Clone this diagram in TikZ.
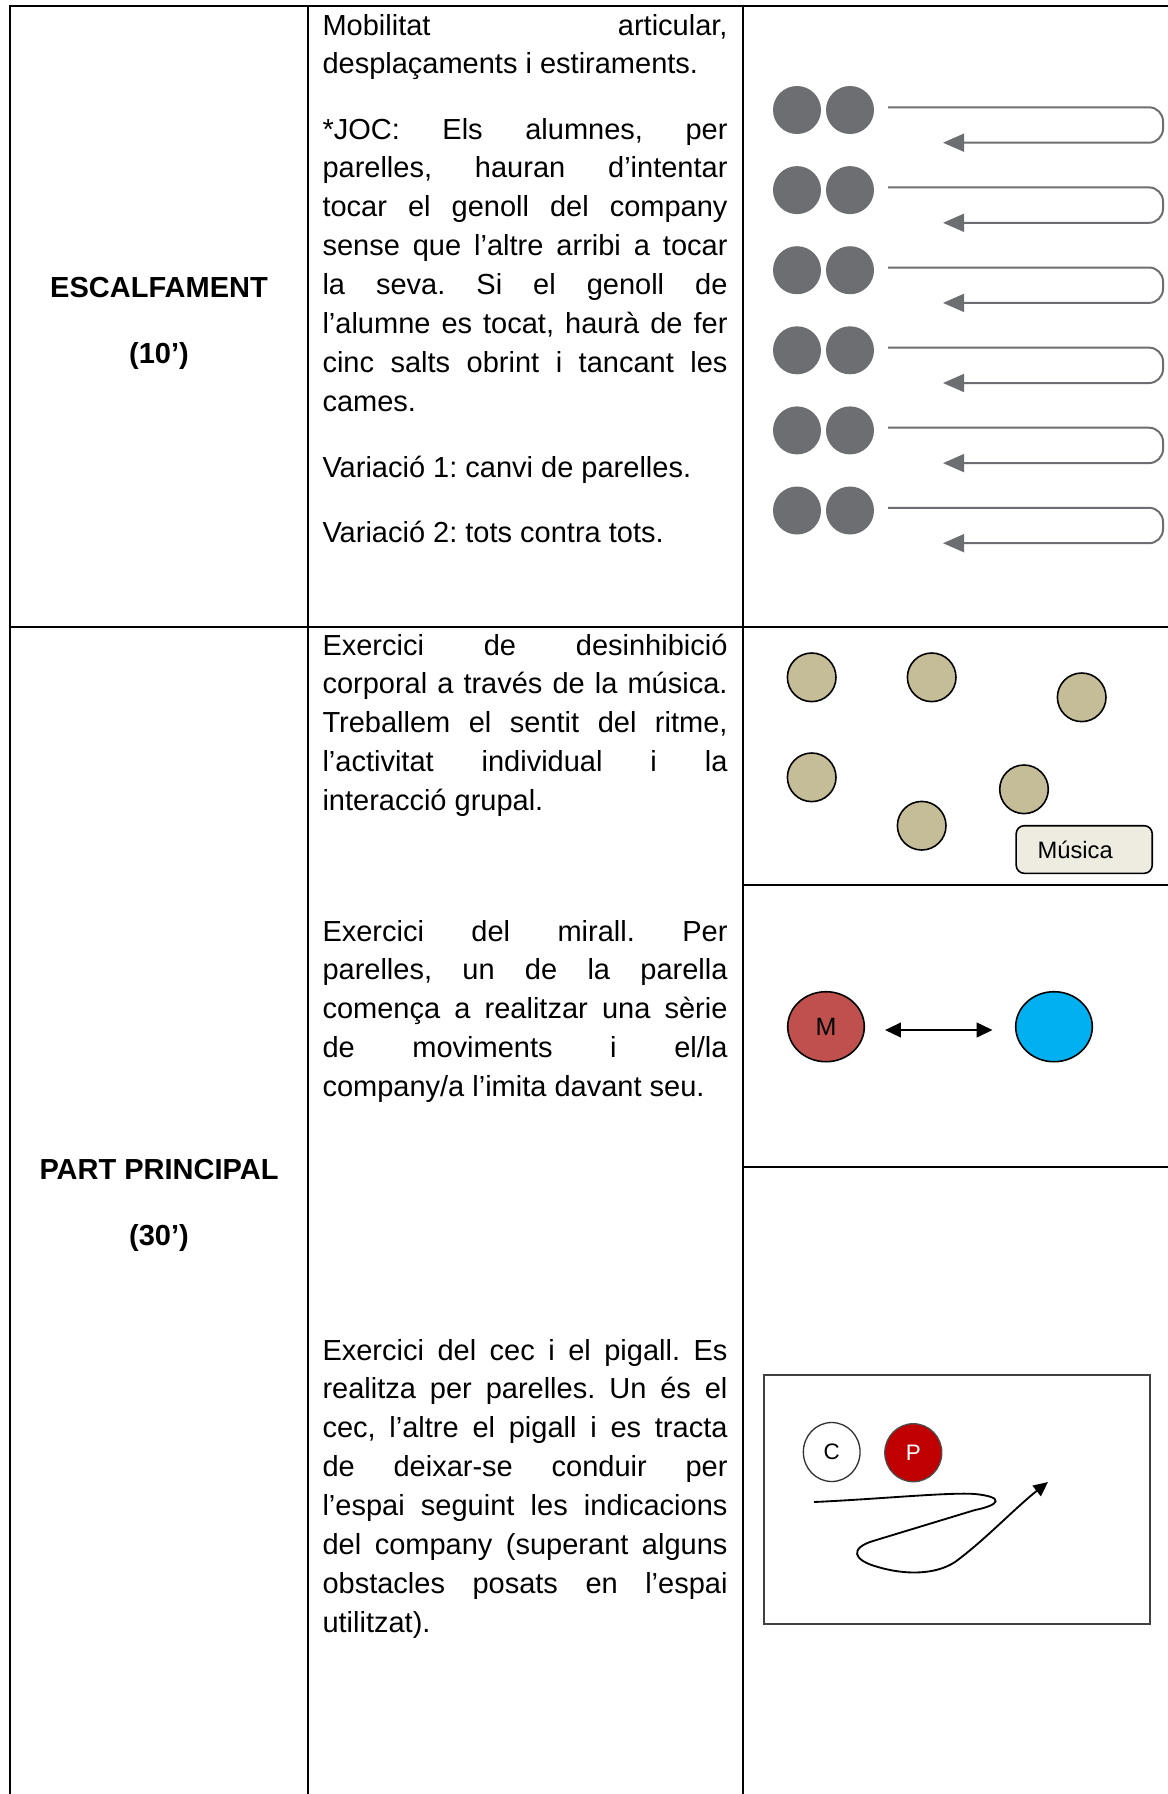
\documentclass[tikz,border=0pt]{standalone}
\usepackage{fontspec}
\setmainfont{Liberation Sans}
\usetikzlibrary{arrows.meta,shapes.geometric}

% one drawing unit of the layout grid
\newdimen\pxunit \pxunit=0.3793pt

% justified cell text with fixed line breaks
\tolerance=10000 \hbadness=10000
\hyphenpenalty=10000 \exhyphenpenalty=10000
\frenchspacing

\definecolor{dotgray}{HTML}{6D6E71}
\definecolor{tanfill}{HTML}{C4BD97}
\definecolor{boxfill}{HTML}{EEECE1}
\definecolor{mirrorred}{HTML}{C0504D}
\definecolor{skyblue}{HTML}{00B0F0}
\definecolor{guidered}{HTML}{C00000}

\tikzset{
  rule/.style={line width=0.8pt, line cap=rect},
  para/.style={anchor=base west, inner sep=0pt, text width=405\pxunit, align=justify,
    font=\frenchspacing\fontsize{11pt}{14.75pt}\selectfont},
  phase/.style={anchor=base, inner sep=0pt, font=\bfseries\fontsize{11pt}{14.75pt}\selectfont},
  pairdot/.style={circle, fill=dotgray, draw=none, inner sep=0pt, minimum size=48\pxunit},
  uturn/.style={draw=dotgray, line width=0.76pt, rounded corners=14\pxunit,
    -{Triangle[length=8pt,width=6.8pt]}},
  dancer/.style={circle, fill=tanfill, draw=black, line width=0.6pt, inner sep=0pt, minimum size=48.6\pxunit},
  musicbox/.style={rectangle, rounded corners=8\pxunit, draw=black, line width=0.6pt, fill=boxfill,
    minimum width=136\pxunit, minimum height=47.6\pxunit, inner sep=0pt, font=\fontsize{9pt}{10pt}\selectfont},
  mirrorfig/.style={ellipse, draw=black, line width=0.6pt, inner sep=0pt,
    minimum width=76.6\pxunit, minimum height=70\pxunit, font=\fontsize{9.5pt}{10pt}\selectfont},
  walker/.style={ellipse, line width=0.5pt, inner sep=0pt,
    minimum width=56.7\pxunit, minimum height=59\pxunit, font=\fontsize{8.5pt}{9pt}\selectfont},
}

\begin{document}
\begin{tikzpicture}[x=0.3793pt, y=-0.3793pt]
\useasboundingbox (0,0) rectangle (1168,1794);
\fill[white] (0,0) rectangle (1168,1794);

% table grid
\draw[rule] (10,1794) -- (10,6) -- (1168,6);
\draw[rule] (308,6) -- (308,1794);
\draw[rule] (743,6) -- (743,1794);
\draw[rule] (10,627) -- (1168,627);
\draw[rule] (743,885) -- (1168,885);
\draw[rule] (743,1167) -- (1168,1167);

% phase labels
\node[phase] (warm) at (159,297) {ESCALFAMENT};
\node[phase] (warmtime) at (159,363) {(10’)};
\node[phase] (main) at (159,1179) {PART PRINCIPAL};
\node[phase] (maintime) at (159,1245) {(30’)};

% descriptions
\node[para] (t1) at (322,35) {Mobilitat articular,\linebreak desplaçaments i estiraments.};
\node[para] (t2) at (322,139) {*JOC: Els alumnes, per\linebreak parelles, hauran d’intentar\linebreak tocar el genoll del company\linebreak sense que l’altre arribi a tocar\linebreak la seva. Si el genoll de\linebreak l’alumne es tocat, haurà de fer\linebreak cinc salts obrint i tancant les\linebreak cames.};
\node[para] (t3) at (322,477) {Variació 1: canvi de parelles.};
\node[para] (t4) at (322,542) {Variació 2: tots contra tots.};
\node[para] (t5) at (322,655) {Exercici de desinhibició\linebreak corporal a través de la música.\linebreak Treballem el sentit del ritme,\linebreak l’activitat individual i la\linebreak interacció grupal.};
\node[para] (t6) at (322,941) {Exercici del mirall. Per\linebreak parelles, un de la parella\linebreak comença a realitzar una sèrie\linebreak de moviments i el/la\linebreak company/a l’imita davant seu.};
\node[para] (t7) at (322,1360) {Exercici del cec i el pigall. Es\linebreak realitza per parelles. Un és el\linebreak cec, l’altre el pigall i es tracta\linebreak de deixar-se conduir per\linebreak l’espai seguint les indicacions\linebreak del company (superant alguns\linebreak obstacles posats en l’espai\linebreak utilitzat).};

% warm-up: pairs running out and back
\foreach \i in {0,...,5} {
  \pgfmathsetmacro\yy{110+80.1*\i}
  \node[pairdot] (pa\i) at (797,\yy) {};
  \node[pairdot] (pb\i) at (850,\yy) {};
  \draw[uturn] (888,\yy-2.7) -- (1163,\yy-2.7) -- (1163,\yy+32.7) -- (943,\yy+32.7);
}

% free dance with music
\node[dancer] (d1) at (811.7,677.3) {};
\node[dancer] (d2) at (931.7,677.3) {};
\node[dancer] (d3) at (1081.7,697.3) {};
\node[dancer] (d4) at (811.7,777.3) {};
\node[dancer] (d5) at (1024,789.3) {};
\node[dancer] (d6) at (921.7,825.7) {};
\node[musicbox] (music) at (1084.2,849.5) {\raisebox{-2\pxunit}{Música}\hspace*{18\pxunit}};

% mirror exercise
\node[mirrorfig, fill=mirrorred] (leader) at (826,1026.7) {M};
\node[mirrorfig, fill=skyblue] (follower) at (1054,1026.7) {};
\draw[line width=0.65pt, {Triangle[length=6pt,width=5.6pt]}-{Triangle[length=6pt,width=5.6pt]},
  shorten <=20\pxunit, shorten >=22.4\pxunit]
  ([yshift=-3.3\pxunit]leader.east) -- ([yshift=-3.3\pxunit]follower.west);

% blind and guide
\draw[line width=0.8pt, draw=black!75] (764,1375) rectangle (1150,1624);
\node[walker, draw=black!80, fill=white] (blind) at (831.7,1452) {C};
\node[walker, draw=black!70, fill=guidered, text=white, minimum width=57\pxunit, minimum height=58\pxunit] (guide) at (913.3,1452.7) {P};
\draw[line width=0.7pt, -{Triangle[length=5.5pt,width=5pt]}]
  (814,1502) .. controls (880,1499) and (950,1492) .. (975,1494)
  .. controls (1005,1497) and (1000,1505) .. (975,1510)
  -- (873,1541)
  .. controls (850,1548) and (852,1560) .. (878,1567)
  .. controls (905,1575) and (935,1575) .. (955,1562)
  .. controls (985,1540) and (1015,1508) .. (1048,1482);
\end{tikzpicture}
\end{document}
